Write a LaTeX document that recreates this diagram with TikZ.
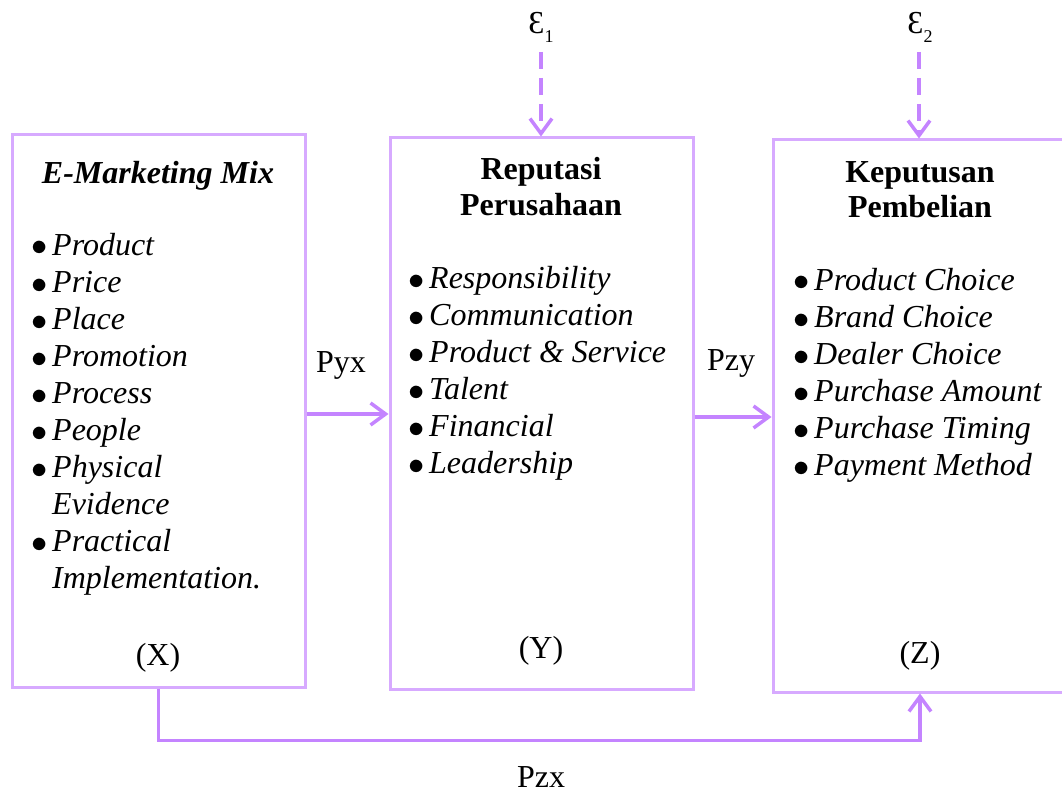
\documentclass[tikz,border=0pt]{standalone}
\usepackage{fontspec}
\setmainfont{Liberation Serif}
\usetikzlibrary{arrows.meta}
\definecolor{boxcol}{RGB}{215,170,255}
\definecolor{arrcol}{RGB}{196,132,255}
\newcommand\bul{\makebox[21pt][l]{\raisebox{-1pt}{\scalebox{1.3}{$\bullet$}}}}
\begin{document}
\begin{tikzpicture}[x=1pt,y=-1pt,
  box/.style={draw=boxcol,line width=3pt,inner sep=0pt},
  lab/.style={font=\fontsize{32}{37}\selectfont,inner sep=0pt,anchor=base},
  ttl/.style={font=\fontsize{32}{37}\selectfont\bfseries,inner sep=0pt,anchor=base},
  item/.style={font=\fontsize{32}{37}\selectfont\itshape,inner sep=0pt,anchor=base west},
  conn/.style={draw=arrcol,line width=3.5pt,-{Straight Barb[length=15pt,width=22pt]}},
  dconn/.style={conn,dash pattern=on 17pt off 9pt},
  eps/.style={font=\fontsize{32}{32}\selectfont,inner sep=0pt,anchor=base}
]
\useasboundingbox (0,0) rectangle (1062,794);
\clip (0,0) rectangle (1062,794);

% boxes
\node[box,minimum width=293pt,minimum height=552pt] (X) at (158.5,411) {};
\node[box,minimum width=303pt,minimum height=551pt] (Y) at (541.5,413.5) {};
\node[box,minimum width=303pt,minimum height=552pt] (Z) at (924.5,416) {};

% box X
\node[ttl,font=\fontsize{32}{37}\selectfont\bfseries\itshape] (xt) at (158,184) {E-Marketing Mix};
\node[item] (x1) at (31,255) {\bul Product};
\node[item] (x2) at (31,292) {\bul Price};
\node[item] (x3) at (31,329) {\bul Place};
\node[item] (x4) at (31,366) {\bul Promotion};
\node[item] (x5) at (31,403) {\bul Process};
\node[item] (x6) at (31,440) {\bul People};
\node[item] (x7) at (31,477) {\bul Physical};
\node[item] (x7b) at (52,514) {Evidence};
\node[item] (x8) at (31,551) {\bul Practical};
\node[item] (x8b) at (52,588) {Implementation.};
\node[lab] (xl) at (158,665) {(X)};

% box Y
\node[ttl] (yt1) at (541,180) {Reputasi};
\node[ttl] (yt2) at (541,216) {Perusahaan};
\node[item] (y1) at (408,288) {\bul Responsibility};
\node[item] (y2) at (408,325) {\bul Communication};
\node[item] (y3) at (408,362) {\bul Product \& Service};
\node[item] (y4) at (408,399) {\bul Talent};
\node[item] (y5) at (408,436) {\bul Financial};
\node[item] (y6) at (408,473) {\bul Leadership};
\node[lab] (yl) at (541,658) {(Y)};

% box Z
\node[ttl] (zt1) at (920,183) {Keputusan};
\node[ttl] (zt2) at (920,218) {Pembelian};
\node[item] (z1) at (793,290) {\bul Product Choice};
\node[item] (z2) at (793,327) {\bul Brand Choice};
\node[item] (z3) at (793,364) {\bul Dealer Choice};
\node[item] (z4) at (793,401) {\bul Purchase Amount};
\node[item] (z5) at (793,438) {\bul Purchase Timing};
\node[item] (z6) at (793,475) {\bul Payment Method};
\node[lab] (zl) at (920,663) {(Z)};

% errors
\node[eps] (e1) at (541,34) {Ɛ\raisebox{-9pt}{\fontsize{18}{18}\selectfont 1}};
\node[eps] (e2) at (920,34) {Ɛ\raisebox{-9pt}{\fontsize{18}{18}\selectfont 2}};
\coordinate (e1a) at (541,52);
\coordinate (e2a) at (919,52);
\draw[dconn] (e1a) -- (e1a |- Y.north);
\draw[dconn] (e2a) -- (e2a |- Z.north);

% paths
\draw[conn] ([yshift=-3pt]X.east) -- ([yshift=-3pt]X.east -| Y.west);
\node[lab] (pyx) at (341,372) {Pyx};
\draw[conn] ([yshift=-3.5pt]Y.east) -- ([yshift=-3.5pt]Y.east -| Z.west);
\node[lab] (pzy) at (731,370) {Pzy};
\coordinate (zin) at ([xshift=-4.5pt]Z.south);
\draw[conn] (X.south) -- ++(0,52) -| (zin);
\node[lab] (pzx) at (541,787) {Pzx};
\end{tikzpicture}
\end{document}
